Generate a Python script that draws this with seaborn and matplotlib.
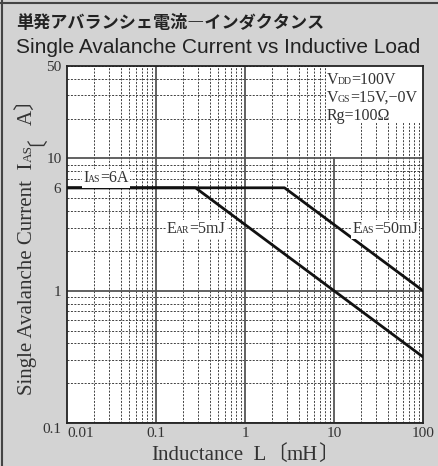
import numpy as np
import pandas as pd
import matplotlib
matplotlib.use("Agg")
import matplotlib.pyplot as plt
import seaborn as sns
from matplotlib.transforms import offset_copy, Bbox
from matplotlib.ticker import FixedLocator, FuncFormatter, NullFormatter
from matplotlib.patches import Rectangle

# ---- data ----
ear_L = [0.01, 0.278, 100]      # inductance, mH
ear_I = [6, 6, 0.316]           # current, A
eas_L = [0.01, 2.78, 100]
eas_I = [6, 6, 1.0]
series_names = ["EAR=5mJ", "EAS=50mJ"]

x_ticks = [0.01, 0.1, 1, 10, 100]
x_labels = ["0.01", "0.1", "1", "10", "100"]
y_major = [0.1, 1, 10]
y_minor_labeled = {6: "6", 50: "50"}

title_jp = "単発アバランシェ電流―インダクタンス"
title_en = "Single Avalanche Current vs Inductive Load"

sns.set_style("white")
plt.rcParams["font.family"] = ["Liberation Serif", "DejaVu Serif"]

W, H = 438, 466
DPI = 100
BG = "#d3d3d3"
TXT = "#333333"
fig = plt.figure(figsize=(W / DPI, H / DPI), dpi=DPI, facecolor=BG)
ax = fig.add_axes([67 / W, (H - 423) / H, 356 / W, 357 / H])
ax.set_facecolor("white")

df = pd.DataFrame({
    "L": ear_L + eas_L,
    "I": ear_I + eas_I,
    "series": [series_names[0]] * len(ear_L) + [series_names[1]] * len(eas_L),
})
sns.lineplot(data=df, x="L", y="I", hue="series", units="series",
             estimator=None, sort=False,
             palette={series_names[0]: "#111111", series_names[1]: "#111111"},
             linewidth=2.0, legend=False, ax=ax, zorder=3)
ax.set_xlabel("")
ax.set_ylabel("")

ax.set_xscale("log")
ax.set_yscale("log")
ax.set_xlim(0.01, 100)
ax.set_ylim(0.1, 50)

# ticks
ax.set_xticks(x_ticks)
ax.set_xticklabels(x_labels)
xminor = [m * d for d in [0.01, 0.1, 1, 10] for m in range(2, 10)]
ax.xaxis.set_minor_locator(FixedLocator(xminor))
ax.xaxis.set_minor_formatter(NullFormatter())

ax.set_yticks(y_major)
ax.set_yticklabels(["0.1", "1", "10"])
yminor = [m * d for d in [0.1, 1, 10] for m in range(2, 10) if m * d <= 50]
ax.yaxis.set_minor_locator(FixedLocator(yminor))
ax.yaxis.set_minor_formatter(FuncFormatter(
    lambda v, p: y_minor_labeled.get(int(round(v)), "") if v >= 1 and abs(v - round(v)) < 1e-6 else ""))

ax.tick_params(which="both", length=0, labelsize=11, colors=TXT, pad=4)
ax.tick_params(axis="x", which="both", pad=3)
for lab in ax.get_xticklabels():
    if lab.get_text() == "0.01":
        lab.set_horizontalalignment("left")
for lab in ax.get_yticklabels():
    if lab.get_text() == "0.1":
        lab.set_verticalalignment("top")

# grid
ax.set_axisbelow(True)
ax.grid(which="minor", axis="both", linestyle=(0, (2.2, 1.6)), color="#333333", linewidth=0.65)
ax.grid(which="major", axis="y", linestyle="-", color="#555555", linewidth=1.3)
for xv in [0.1, 1]:
    ax.axvline(xv, color="#555555", linewidth=1.3, zorder=0.6)
ax.axvline(10, ymax=np.log10(10 / 0.1) / np.log10(50 / 0.1), color="#555555", linewidth=1.3, zorder=0.6)

for sp in ax.spines.values():
    sp.set_color("#222222")
    sp.set_linewidth(1.3)

# white box behind conditions
ax.add_patch(Rectangle((0.727, 0.843), 0.273, 0.157, transform=ax.transAxes,
                       facecolor="white", edgecolor="none", zorder=1))

renderer = fig.canvas.get_renderer()
SER = "Liberation Serif"
CJK = "Noto Sans CJK JP"


def fx(px):
    return px / W


def fy(py):
    return (H - py) / H


def rich(xp, yp, pieces, rotation=0, bg=None, center=False, gap=-0.5):
    """Draw text pieces along a common baseline starting at pixel (xp, yp from top).
    Each piece: (text, size, family[, perpendicular shift px, valign])."""
    texts = []
    offs = []
    perps = []
    off = 0.0
    for piece in pieces:
        text, size, fam = piece[:3]
        perp = piece[3] if len(piece) > 3 else 0.0
        va = piece[4] if len(piece) > 4 else "baseline"
        t = fig.text(fx(xp), fy(yp), text, rotation=rotation,
                     rotation_mode="anchor", ha="left", va=va,
                     fontsize=size, family=fam, color=TXT, zorder=5)
        bb = t.get_window_extent(renderer)
        texts.append(t)
        offs.append(off)
        perps.append(perp)
        off += (bb.width if rotation == 0 else bb.height) + gap
    shift = -off / 2 if center else 0.0
    boxes = []
    for t, o, p in zip(texts, offs, perps):
        pts = (o + shift) * 72.0 / DPI
        ppts = p * 72.0 / DPI
        if rotation == 0:
            t.set_transform(offset_copy(fig.transFigure, fig, x=pts, y=ppts, units="points"))
        else:
            t.set_transform(offset_copy(fig.transFigure, fig, x=ppts, y=pts, units="points"))
        boxes.append(t.get_window_extent(renderer))
    if bg:
        u = Bbox.union(boxes)
        pad = 1.5
        x0, y0 = fig.transFigure.inverted().transform((u.x0 - pad, u.y0 - pad))
        x1, y1 = fig.transFigure.inverted().transform((u.x1 + pad, u.y1 + pad))
        fig.add_artist(Rectangle((x0, y0), x1 - x0, y1 - y0, transform=fig.transFigure,
                                 facecolor=bg, edgecolor="none", zorder=4))
    return texts


# annotations inside plot
rich(83, 182, [("I", 11.5, SER), ("AS", 7, SER), ("=6A", 11.5, SER)], bg="white")
rich(167, 233, [("E", 11.5, SER), ("AR", 7, SER), ("=5mJ", 11.5, SER)], bg="white")
rich(353, 233, [("E", 11.5, SER), ("AS", 7, SER), ("=50mJ", 11.5, SER)], bg="white")
rich(327, 84, [("V", 11.5, SER), ("DD", 7, SER), ("=100V", 11.5, SER)])
rich(327, 102, [("V", 11.5, SER), ("GS", 7, SER), ("=15V,−0V", 11.5, SER)])
rich(327, 120, [("Rg=100Ω", 11.5, SER)])

# axis labels
rich(32, 395, [("Single Avalanche Current", 15, SER), ("  I", 15, SER), ("AS", 9.5, SER),
               ("〔", 15, CJK, -7, "center"), ("A", 15, SER), ("〕", 15, CJK, -7, "center")],
     rotation=90, gap=0)
rich(245, 460, [("Inductance", 15, SER), ("  L", 15, SER), ("〔", 15, CJK), ("mH", 15, SER),
                ("〕", 15, CJK)], center=True, gap=0)

# titles
fig.text(fx(16), fy(28.5), title_jp, ha="left", va="baseline", fontsize=12.3,
         family=CJK, weight="bold", color="#222222")
fig.text(fx(16), fy(53), title_en, ha="left", va="baseline", fontsize=15,
         family="Liberation Sans", color="#222222")

# frame lines (left and top)
fig.add_artist(plt.Line2D([fx(1.5), fx(1.5)], [0, 1], transform=fig.transFigure, color="#444444", linewidth=1.5))
fig.add_artist(plt.Line2D([0, 1], [fy(3), fy(3)], transform=fig.transFigure, color="#444444", linewidth=1.5))

fig.savefig("out.png", dpi=DPI, facecolor=BG)
